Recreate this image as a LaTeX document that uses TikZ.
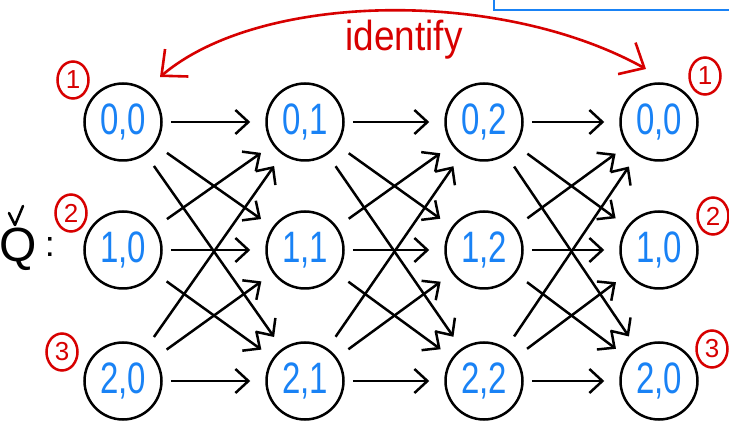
\documentclass[tikz,border=0pt]{standalone}
\usepackage{fontspec}
\setmainfont{Liberation Sans}
\usetikzlibrary{arrows.meta,shapes.geometric}
\definecolor{nblue}{RGB}{25,130,245}
\definecolor{nred}{RGB}{215,0,0}
\begin{document}
\begin{tikzpicture}[x=1pt,y=-1pt,
  state/.style={circle,draw,line width=2.5pt,minimum size=77pt,inner sep=0pt,
    text=nblue,font=\fontsize{44}{44}\selectfont},
  conn/.style={line width=2.5pt,-{Straight Barb[length=13pt,width=24pt,line width=2.5pt]},
    shorten <=8pt,shorten >=15pt},
  diag/.style={conn,shorten <=14pt,shorten >=14pt},
  tag/.style={ellipse,draw=nred,line width=2.5pt,text=nred,minimum width=31pt,minimum height=37pt,inner sep=0pt,
    font=\fontsize{26}{26}\selectfont}]
\useasboundingbox (0,0) rectangle (729,430);
% blue box at top right
\draw[nblue,line width=2.5pt] (494,-3) -- (494,10) -- (732,10);
% states
\foreach \c/\x in {0/123,1/305,2/484,3/659}{
  \foreach \r/\y in {0/122,1/250,2/381}{
    \coordinate (p\c\r) at (\x,\y);
  }
}
\node[state] (s00) at (p00) {\scalebox{0.75}[1]{0,0}};
\node[state] (s01) at (p01) {\scalebox{0.75}[1]{1,0}};
\node[state] (s02) at (p02) {\scalebox{0.75}[1]{2,0}};
\node[state] (s10) at (p10) {\scalebox{0.75}[1]{0,1}};
\node[state] (s11) at (p11) {\scalebox{0.75}[1]{1,1}};
\node[state] (s12) at (p12) {\scalebox{0.75}[1]{2,1}};
\node[state] (s20) at (p20) {\scalebox{0.75}[1]{0,2}};
\node[state] (s21) at (p21) {\scalebox{0.75}[1]{1,2}};
\node[state] (s22) at (p22) {\scalebox{0.75}[1]{2,2}};
\node[state] (s30) at (p30) {\scalebox{0.75}[1]{0,0}};
\node[state] (s31) at (p31) {\scalebox{0.75}[1]{1,0}};
\node[state] (s32) at (p32) {\scalebox{0.75}[1]{2,0}};
% connectors
\foreach \c/\d in {0/1,1/2,2/3}{
  \foreach \i in {0,1,2}{
    \draw[conn] (s\c\i) -- (s\d\i);
  }
  \draw[diag] (s\c0) -- (s\d1);
  \draw[diag] (s\c0) -- (s\d2);
  \draw[diag] (s\c1) -- (s\d0);
  \draw[diag] (s\c1) -- (s\d2);
  \draw[diag] (s\c2) -- (s\d0);
  \draw[diag] (s\c2) -- (s\d1);
}
% identify arc
\coordinate (ia) at (160,77);
\coordinate (ib) at (646,69);
\draw[nred,line width=2.6pt,{Straight Barb[length=20pt,width=36pt,line width=2.6pt]}-{Straight Barb[length=20pt,width=36pt,line width=2.6pt]}]
  (ia) .. controls (260,-8) and (500,-12) .. (ib);
\node[text=nred,font=\fontsize{42}{42}\selectfont] (lid) at (404,40) {\scalebox{0.88}[1]{identify}};
% tags
\node[tag] (t1) at (73,80) {1};
\node[tag] (t2) at (71,213) {2};
\node[tag] (t3) at (62,352) {3};
\node[tag] (t4) at (705,76) {1};
\node[tag] (t5) at (713,216) {2};
\node[tag] (t6) at (712,349) {3};
% Q with check
\node[font=\fontsize{48}{48}\selectfont,inner sep=0pt] (q) at (18,249) {Q};
\node[font=\fontsize{36}{36}\selectfont,inner sep=0pt] (colon) at (50,247) {:};
\draw[line width=2.5pt,line cap=round,line join=round] (9,213) -- (15,225) -- (23,206);
\end{tikzpicture}
\end{document}
